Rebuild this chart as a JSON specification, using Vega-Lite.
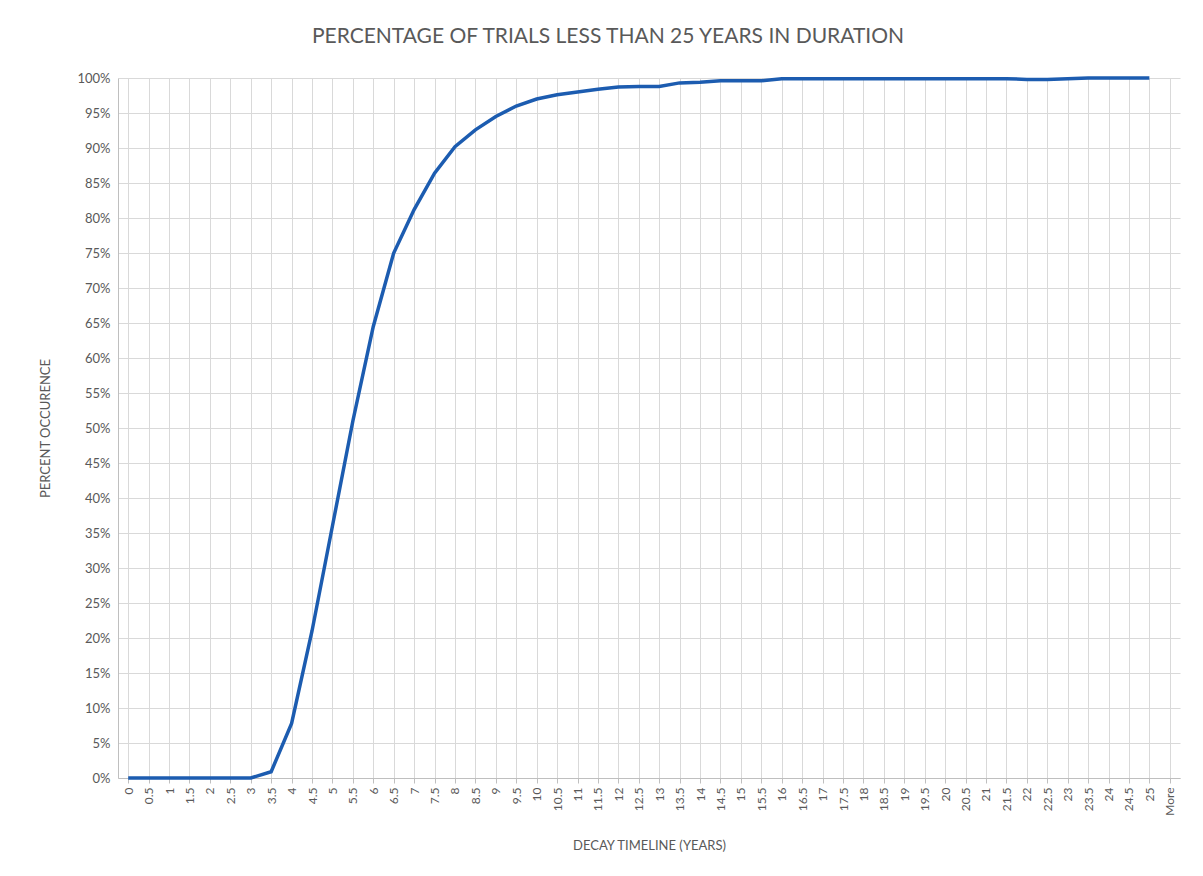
{
  "$schema": "https://vega.github.io/schema/vega-lite/v6.json",
  "autosize": {"type": "none"},
  "width": 1062,
  "height": 700,
  "padding": {"left": 118, "top": 78, "right": 23, "bottom": 98},
  "background": "white",
  "title": {
    "text": "PERCENTAGE OF TRIALS LESS THAN 25 YEARS IN DURATION",
    "font": "Lato",
    "fontSize": 21,
    "fontWeight": "normal",
    "color": "#595959",
    "anchor": "middle",
    "dx": -41,
    "offset": 24
  },
  "config": {
    "view": {"stroke": null},
    "axis": {"labelFont": "Lato", "titleFont": "Lato", "labelColor": "#595959", "titleColor": "#595959", "gridColor": "#d9d9d9", "gridWidth": 1, "domainColor": "#bfbfbf", "tickColor": "#bfbfbf"}
  },
  "data": {
    "values": [
      {"t": "0", "pct": 0}, {"t": "0.5", "pct": 0}, {"t": "1", "pct": 0}, {"t": "1.5", "pct": 0},
      {"t": "2", "pct": 0}, {"t": "2.5", "pct": 0}, {"t": "3", "pct": 0}, {"t": "3.5", "pct": 0.009},
      {"t": "4", "pct": 0.078}, {"t": "4.5", "pct": 0.21}, {"t": "5", "pct": 0.36}, {"t": "5.5", "pct": 0.51},
      {"t": "6", "pct": 0.645}, {"t": "6.5", "pct": 0.75}, {"t": "7", "pct": 0.812}, {"t": "7.5", "pct": 0.864},
      {"t": "8", "pct": 0.902}, {"t": "8.5", "pct": 0.926}, {"t": "9", "pct": 0.945}, {"t": "9.5", "pct": 0.96},
      {"t": "10", "pct": 0.97}, {"t": "10.5", "pct": 0.976}, {"t": "11", "pct": 0.98}, {"t": "11.5", "pct": 0.984},
      {"t": "12", "pct": 0.987}, {"t": "12.5", "pct": 0.988}, {"t": "13", "pct": 0.988}, {"t": "13.5", "pct": 0.993},
      {"t": "14", "pct": 0.994}, {"t": "14.5", "pct": 0.996}, {"t": "15", "pct": 0.996}, {"t": "15.5", "pct": 0.996},
      {"t": "16", "pct": 0.999}, {"t": "16.5", "pct": 0.999}, {"t": "17", "pct": 0.999}, {"t": "17.5", "pct": 0.999},
      {"t": "18", "pct": 0.999}, {"t": "18.5", "pct": 0.999}, {"t": "19", "pct": 0.999}, {"t": "19.5", "pct": 0.999},
      {"t": "20", "pct": 0.999}, {"t": "20.5", "pct": 0.999}, {"t": "21", "pct": 0.999}, {"t": "21.5", "pct": 0.999},
      {"t": "22", "pct": 0.998}, {"t": "22.5", "pct": 0.998}, {"t": "23", "pct": 0.999}, {"t": "23.5", "pct": 1},
      {"t": "24", "pct": 1}, {"t": "24.5", "pct": 1}, {"t": "25", "pct": 1}, {"t": "More", "pct": null}
    ]
  },
  "mark": {"type": "line", "color": "#1c5cb0", "strokeWidth": 3.5},
  "encoding": {
    "x": {
      "field": "t", "type": "ordinal", "sort": null,
      "scale": {"type": "point", "padding": 0.5, "domain": ["0","0.5","1","1.5","2","2.5","3","3.5","4","4.5","5","5.5","6","6.5","7","7.5","8","8.5","9","9.5","10","10.5","11","11.5","12","12.5","13","13.5","14","14.5","15","15.5","16","16.5","17","17.5","18","18.5","19","19.5","20","20.5","21","21.5","22","22.5","23","23.5","24","24.5","25","More"]},
      "axis": {"title": "DECAY TIMELINE (YEARS)", "titleFontSize": 13, "titleFontWeight": "normal", "titlePadding": 24, "labelAngle": -90, "labelFontSize": 12, "grid": true, "ticks": true, "tickSize": 5, "labelPadding": 4}
    },
    "y": {
      "field": "pct", "type": "quantitative",
      "scale": {"domain": [0, 1], "nice": false},
      "axis": {"title": "PERCENT OCCURENCE", "titleFontSize": 13, "titleFontWeight": "normal", "titlePadding": 24, "format": ".0%", "values": [0,0.05,0.1,0.15,0.2,0.25,0.3,0.35,0.4,0.45,0.5,0.55,0.6,0.65,0.7,0.75,0.8,0.85,0.9,0.95,1], "labelFontSize": 13, "ticks": false, "labelPadding": 8, "grid": true}
    }
  }
}
